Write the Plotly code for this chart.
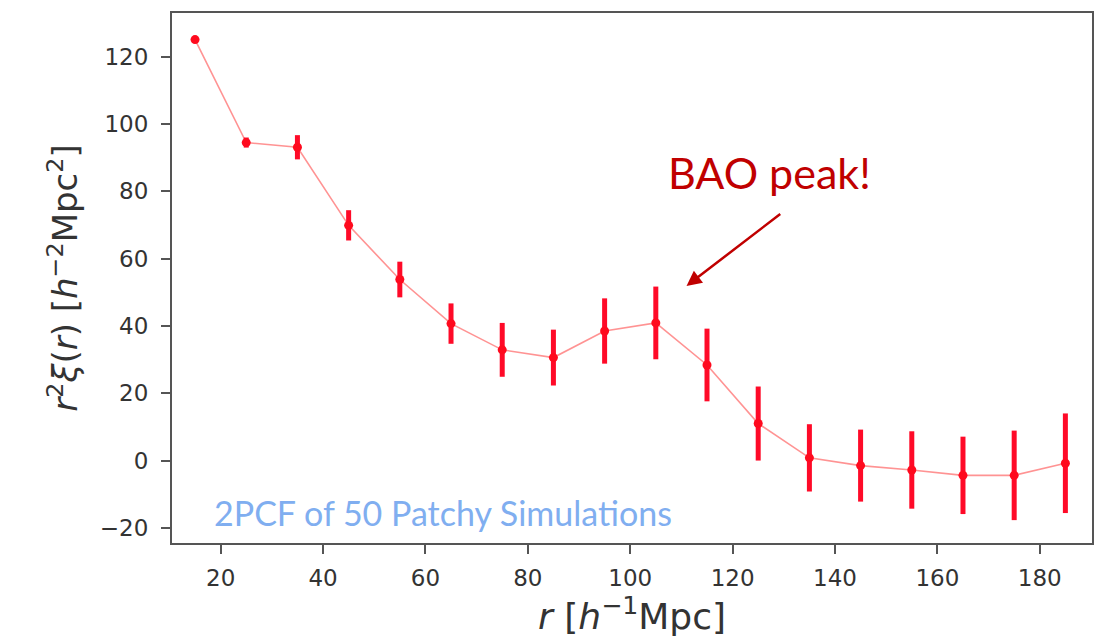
import plotly.graph_objects as go

# Separation bin centres r [h^-1 Mpc]
r_bins = [15, 25, 35, 45, 55, 65, 75, 85, 95, 105, 115, 125, 135, 145, 155, 165, 175, 185]
# r^2 xi(r) averaged over the mocks
r2xi = [125.1, 94.5, 93.1, 69.9, 53.8, 40.7, 32.9, 30.6, 38.5, 40.9, 28.4, 11.0,
        0.8, -1.5, -2.8, -4.4, -4.4, -0.8]
# 1-sigma scatter across the mocks
r2xi_err = [0.6, 1.5, 3.6, 4.5, 5.3, 6.0, 8.0, 8.3, 9.7, 10.8, 10.8, 11.0,
            10.0, 10.7, 11.5, 11.5, 13.3, 14.8]

x_ticks = [20, 40, 60, 80, 100, 120, 140, 160, 180]
y_ticks = [-20, 0, 20, 40, 60, 80, 100, 120]

fig = go.Figure()

# thin translucent connecting line
fig.add_trace(go.Scatter(
    x=r_bins, y=r2xi, mode="lines",
    line=dict(color="rgba(255,40,40,0.5)", width=1.6),
    hoverinfo="skip", showlegend=False,
))
# points with capless error bars
fig.add_trace(go.Scatter(
    x=r_bins, y=r2xi, mode="markers",
    marker=dict(color="#ff0a1e", size=9),
    error_y=dict(type="data", array=r2xi_err, visible=True,
                 color="#ff0a28", thickness=5, width=0),
    showlegend=False,
))

axis_common = dict(
    showgrid=False, zeroline=False, showline=True, mirror=True,
    linecolor="#555555", linewidth=2,
    ticks="outside", ticklen=9, tickwidth=2, tickcolor="#555555",
    tickfont=dict(family="DejaVu Sans", size=23, color="#333333"),
)

fig.update_xaxes(
    range=[10.5, 190.2], tickvals=x_ticks, ticklabelstandoff=4, **axis_common,
    title=dict(text="<i>r</i> [<i>h</i><sup>−1</sup>Mpc]",
               font=dict(family="DejaVu Sans", size=36, color="#333333"),
               standoff=10),
)
fig.update_yaxes(
    range=[-24.5, 133.0], tickvals=y_ticks, ticklabelstandoff=8, **axis_common,
    title=dict(text="<i>r</i><sup>2</sup><i>ξ</i>(<i>r</i>) [<i>h</i><sup>−2</sup>Mpc<sup>2</sup>]",
               font=dict(family="DejaVu Sans", size=34, color="#333333"),
               standoff=12),
)

# BAO label and arrow
fig.add_annotation(
    x=111.0, y=51.9, ax=129.6, ay=73.6, axref="x", ayref="y",
    xref="x", yref="y", text="", showarrow=True,
    arrowhead=2, arrowsize=1.2, arrowwidth=2.5, arrowcolor="#c00000",
)
fig.add_annotation(
    x=127.2, y=85.5, xref="x", yref="y", text="BAO peak!", showarrow=False,
    font=dict(family="Lato", size=43, color="#c00000"),
    xanchor="center", yanchor="middle",
)
fig.add_annotation(
    x=18.3, y=-15.4, xref="x", yref="y", text="2PCF of 50 Patchy Simulations",
    showarrow=False, font=dict(family="Lato", size=34, color="#80aef0"),
    xanchor="left", yanchor="middle",
)

fig.update_layout(
    width=1106, height=639,
    margin=dict(l=172, r=14, t=11, b=96),
    plot_bgcolor="white", paper_bgcolor="white",
)

fig.write_html("out.html")
